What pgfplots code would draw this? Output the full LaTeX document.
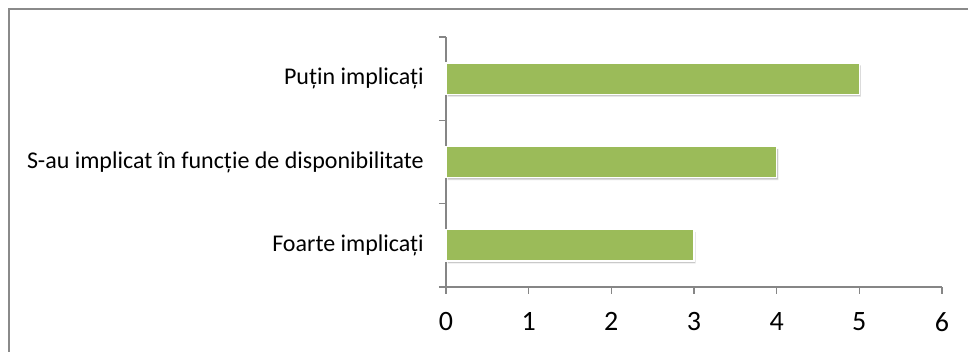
\documentclass[border=0pt]{standalone}
\usepackage{fontspec}
\setmainfont{Carlito}
\usepackage{pgfplots}
\pgfplotsset{compat=1.18}
\usetikzlibrary{shadows}
\definecolor{barGreen}{HTML}{9BBB59}
\definecolor{axisGray}{HTML}{868686}
\definecolor{frameGray}{HTML}{8A8A8A}

\begin{document}
\begin{tikzpicture}[x=1pt,y=1pt]
  % canvas and chart frame (only top and left edges fall inside the canvas)
  \useasboundingbox (0,0) rectangle (726,264);
  \fill[white] (0,0) rectangle (726,264);
  \draw[frameGray, line width=1.5pt] (6.4,-5) -- (6.4,256.9) -- (731,256.9);

  \begin{axis}[
    at={(334.5pt,48.75pt)}, anchor=south west,
    scale only axis,
    width=372pt, height=187.5pt,
    xmin=0, xmax=6, ymin=0.5, ymax=3.5,
    axis x line*=bottom, axis y line*=left,
    axis line style={axisGray, line width=0.8pt},
    xtick={0,1,...,6},
    ytick={1,2,3},
    yticklabels={Foarte implicați, S-au implicat în funcție de disponibilitate, Puțin implicați},
    minor ytick={0.5,1.5,2.5,3.5},
    major tick length=0pt,
    minor tick length=5.25pt,
    tick align=outside,
    tick style={axisGray, line width=0.8pt},
    extra x ticks={0,1,2,3,4,5,6},
    extra x tick labels={},
    extra x tick style={major tick length=5.25pt, tick align=outside},
    /pgf/number format/assume math mode=true,
    x tick label style={font=\fontsize{21}{24}\selectfont, anchor=north, inner sep=0pt, yshift=-18.75pt},
    y tick label style={font=\fontsize{18}{21}\selectfont, anchor=east, inner sep=0pt, xshift=-16.5pt},
    xbar, bar width=0.375,
    clip=false,
  ]
    \addplot[fill=barGreen, draw=white, line width=1pt,
             drop shadow={shadow xshift=1.2pt, shadow yshift=-1.8pt, opacity=0.35, fill=black!60}]
      coordinates {(3,1) (4,2) (5,3)};
  \end{axis}
\end{tikzpicture}
\end{document}
